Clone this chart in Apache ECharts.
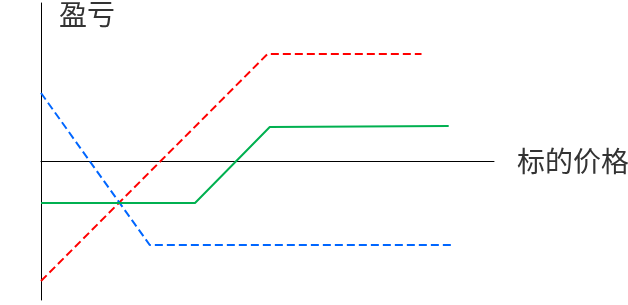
<!DOCTYPE html>
<html><head><meta charset="utf-8">
<script src="https://cdn.jsdelivr.net/npm/echarts@6/dist/echarts.min.js"></script>
<style>html,body{margin:0;padding:0;background:#fff}#c{width:628px;height:305px}</style>
</head><body><div id="c"></div>
<script>
// x: underlying price, y: profit/loss
const redX = [0, 50, 84];
const redY = [-120, 107, 107];
const blueX = [0, 24, 90.5];
const blueY = [68, -84, -84];
const greenX = [0, 34, 50.5, 90];
const greenY = [-42, -42, 34, 35];
const xName = '标的价格';
const yName = '盈亏';

const zip = (xs, ys) => xs.map((x, i) => [x, ys[i]]);
const chart = echarts.init(document.getElementById('c'));
chart.setOption({
  animation: false,
  grid: {left: 41, right: 134, top: 3, bottom: 5, outerBoundsMode: 'none', containLabel: false},
  xAxis: {type: 'value', min: 0, max: 100,
    axisLine: {onZero: true, lineStyle: {color: '#000', width: 1}},
    axisTick: {show: false}, axisLabel: {show: false}, splitLine: {show: false},
    name: xName, nameLocation: 'end', nameGap: 23,
    nameTextStyle: {fontFamily: 'Noto Sans CJK SC', fontSize: 28, color: '#333', padding: [0,0,5,0]}},
  yAxis: {type: 'value', min: -139, max: 158,
    axisLine: {show: true, onZero: false, lineStyle: {color: '#000', width: 1}},
    axisTick: {show: false}, axisLabel: {show: false}, splitLine: {show: false}},
  graphic: [{type: 'text', left: 59, top: 0,
    style: {text: yName, font: '28px "Noto Sans CJK SC"', fill: '#333'}}],
  series: [
    {type: 'line', data: zip(redX, redY), symbol: 'none',
      lineStyle: {color: '#ff0000', width: 2, type: [8, 4]}},
    {type: 'line', data: zip(blueX, blueY), symbol: 'none',
      lineStyle: {color: '#0066ff', width: 2, type: [8, 4]}},
    {type: 'line', data: zip(greenX, greenY), symbol: 'none',
      lineStyle: {color: '#00b050', width: 2}}
  ]
});
</script></body></html>
